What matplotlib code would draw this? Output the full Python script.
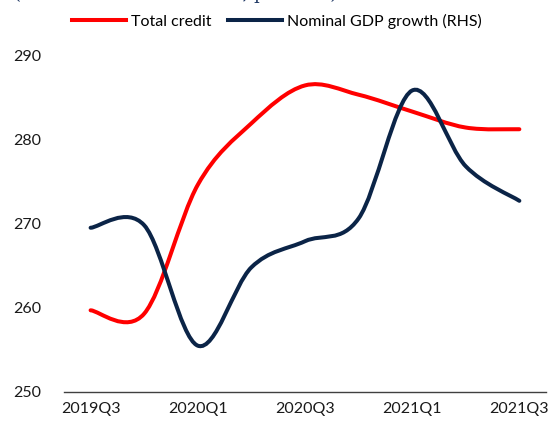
import matplotlib
matplotlib.use('Agg')
import matplotlib.pyplot as plt
import matplotlib.lines as mlines
from matplotlib.path import Path
from matplotlib.patches import PathPatch
import numpy as np

plt.rcParams['font.family'] = ['Lato', 'DejaVu Sans']

quarters = ['2019Q3', '2019Q4', '2020Q1', '2020Q2', '2020Q3',
            '2020Q4', '2021Q1', '2021Q2', '2021Q3']
total_credit = [259.7, 259.3, 274.6, 281.9, 286.4, 285.3, 283.3, 281.4, 281.2]
gdp_growth = [269.5, 269.8, 255.5, 264.8, 267.9, 270.6, 285.8, 276.8, 272.7]

RED = '#FF0000'
NAVY = '#0B2447'
FS = 11.5


def smooth_path(xs, ys):
    # Excel-style smoothed line: cubic Bezier through the points (Catmull-Rom tangents)
    p = np.column_stack([xs, ys]).astype(float)
    n = len(p)
    verts = [p[0]]
    codes = [Path.MOVETO]
    for i in range(n - 1):
        p0 = p[i - 1] if i > 0 else p[i]
        p1, p2 = p[i], p[i + 1]
        p3 = p[i + 2] if i + 2 < n else p[i + 1]
        c1 = p1 + (p2 - p0) / 6.0
        c2 = p2 - (p3 - p1) / 6.0
        verts += [c1, c2, p2]
        codes += [Path.CURVE4] * 3
    return Path(verts, codes)


fig = plt.figure(figsize=(5.5, 4.24), dpi=100)
ax = fig.add_axes([0.116, 0.0755, 0.877, 0.7945])
ax2 = ax.twinx()

x = np.arange(len(quarters))
ax.add_patch(PathPatch(smooth_path(x, total_credit), facecolor='none',
                       edgecolor=RED, lw=2.9, capstyle='round', zorder=3))
ax2.add_patch(PathPatch(smooth_path(x, gdp_growth), facecolor='none',
                        edgecolor=NAVY, lw=2.9, capstyle='round', zorder=3))

for a in (ax, ax2):
    a.set_xlim(-0.5, len(quarters) - 0.5)
    a.set_ylim(250, 290)
    for s in ('top', 'right', 'left'):
        a.spines[s].set_visible(False)
ax2.spines['bottom'].set_visible(False)
ax2.set_yticks([])

ax.spines['bottom'].set_color('#404040')
ax.spines['bottom'].set_linewidth(1.0)
ax.set_yticks(range(250, 291, 10))
ax.set_xticks(x[::2])
ax.set_xticklabels(quarters[::2])
ax.tick_params(axis='y', length=0, pad=16, labelsize=FS, labelcolor='#1a1a1a')
ax.tick_params(axis='x', length=0, pad=7, labelsize=FS, labelcolor='#1a1a1a')

handles = [mlines.Line2D([], [], color=RED, lw=2.9, label='Total credit'),
           mlines.Line2D([], [], color=NAVY, lw=2.9, label='Nominal GDP growth (RHS)')]
fig.legend(handles=handles, loc='center', bbox_to_anchor=(0.503, 0.95), ncol=2,
           frameon=False, fontsize=FS, handlelength=3.4, handletextpad=0.3,
           columnspacing=1.0)

# subtitle cut off at the top edge of the picture, as in the source
fig.text(0.025, 1.0 + 1.0 / 424, '(Per cent of nominal GDP, per cent)',
         family='DejaVu Serif', fontsize=13, color='#1F3864', va='baseline')

fig.savefig('out.png', dpi=100)
